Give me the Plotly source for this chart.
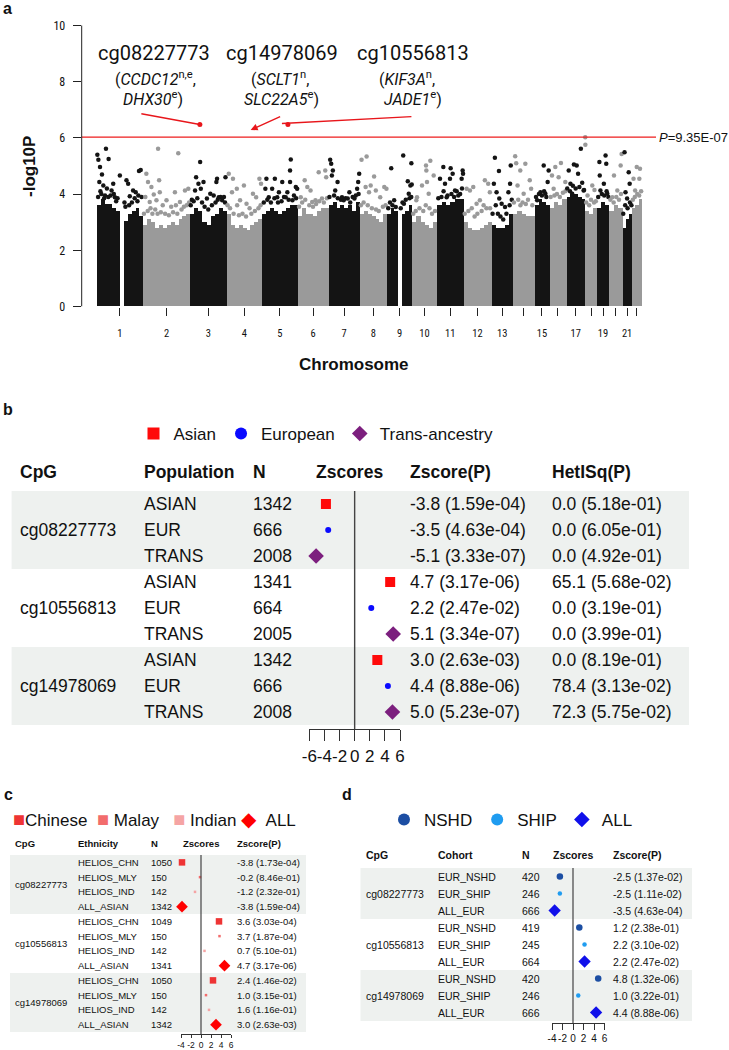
import math
import plotly.graph_objects as go

W, H = 729, 1050
FONT = "Liberation Sans, Arial, sans-serif"
NARROW = "Liberation Sans Narrow, Roboto Condensed, DejaVu Sans Condensed, Liberation Sans, sans-serif"


def PX(p):
    return p / W


def PY(p):
    return 1 - p / H


# ------------------------------------------------------------------ panel a data
chrom = list(range(1, 23))
chrom_span = [46.3, 47.0, 36.5, 35.5, 35.5, 31.0, 31.0, 27.5, 25.0, 25.0, 26.3, 28.2,
              21.3, 21.7, 14.8, 17.0, 18.7, 12.0, 12.0, 13.3, 9.6, 9.7]
chrom_label = ["1", "2", "3", "4", "5", "6", "7", "8", "9", "10", "11", "12", "13", "",
               "15", "", "17", "", "19", "", "21", ""]
# dense core of -log10P per chromosome (equal-width bins along the chromosome)
core_height = [
    [3.6, 3.8, 3.65, 3.65, 3.5, 3.4, 0.0, 3.05, 3.3, 3.4, 3.5, 3.2],
    [2.9, 3.1, 3.0, 2.8, 2.9, 2.8, 2.9, 3.0, 2.9, 3.1, 3.2, 3.3],
    [3.3, 3.5, 3.4, 3.0, 2.9, 3.2, 3.3, 3.5, 3.4],
    [3.3, 2.9, 2.8, 2.9, 2.8, 2.7, 2.9, 3.0, 3.1],
    [3.3, 3.4, 3.5, 3.4, 3.3, 3.4, 3.5, 3.6, 3.6],
    [3.2, 3.5, 3.3, 3.3, 3.2, 3.4, 3.5, 3.5],
    [3.6, 3.7, 3.5, 3.6, 3.5, 3.6, 3.4, 3.7],
    [3.3, 3.4, 3.3, 3.2, 3.1, 3.0, 3.3],
    [3.3, 3.5, 3.4, 0.0, 3.3, 3.4, 3.6],
    [3.0, 3.2, 3.0, 2.9, 2.8, 3.0],
    [3.6, 3.7, 3.6, 3.7, 3.8, 3.8],
    [3.0, 2.8, 2.7, 2.7, 2.8, 2.9, 3.0],
    [2.9, 2.8, 2.8, 2.9, 3.3],
    [3.3, 3.4, 3.3, 3.2, 3.2],
    [3.6, 3.8, 3.7, 3.6],
    [3.5, 3.7, 3.6, 3.8],
    [3.9, 4.0, 4.0, 3.9, 3.8],
    [3.4, 3.3, 3.5],
    [3.5, 3.7, 3.6],
    [3.4, 3.6, 3.5],
    [2.8, 3.1, 3.3],
    [3.5, 3.6, 3.8],
]
# individual CpGs well above the dense core: (relative position in chromosome, -log10P)
peaks = [
    [(.014, 5.40), (.2, 5.61), (.036, 5.22), (.257, 5.25), (.071, 4.96), (.114, 4.70), (.057, 4.43),
     (.143, 4.31), (.357, 4.37), (.5, 4.66), (.393, 3.89), (.643, 4.49), (.679, 4.37), (.914, 4.82),
     (.95, 4.86), (.786, 4.13), (.843, 4.07), (.714, 3.92), (.321, 4.13), (.179, 3.95), (.08, 4.1),
     (.25, 3.9), (.45, 3.85), (.6, 3.7), (.88, 3.75), (.97, 3.9)],
    [(.321, 5.61), (.75, 5.45), (.071, 4.72), (.107, 4.43), (.179, 4.25), (.229, 3.99), (.357, 4.07),
     (.343, 4.49), (.5, 3.78), (.679, 4.07), (.786, 3.72), (.893, 4.13), (.964, 4.19), (.143, 3.72),
     (.286, 3.78), (.42, 3.6), (.6, 3.55), (.7, 3.6), (.05, 3.9)],
    [(.278, 5.14), (.167, 4.60), (.37, 4.43), (.231, 4.37), (.741, 4.55), (.722, 4.43), (.972, 4.60),
     (.139, 4.13), (.648, 3.95), (.787, 3.89), (.556, 4.01), (.88, 3.78), (.463, 3.84), (.296, 4.19),
     (.05, 3.8), (.6, 3.6), (.93, 3.9)],
    [(.064, 4.72), (.182, 4.55), (.291, 4.19), (.491, 4.31), (.155, 4.07), (.745, 4.01), (.836, 3.89),
     (.927, 4.55), (.973, 4.37), (.564, 3.66), (.382, 3.78), (.65, 3.5), (.3, 3.6)],
    [(.81, 5.23), (.79, 4.84), (.79, 4.43), (.362, 4.55), (.124, 4.55), (.095, 4.19), (.286, 4.19),
     (.571, 4.43), (.476, 4.07), (.667, 3.89), (.952, 4.25), (.99, 4.19), (.429, 3.89), (.19, 3.89),
     (.857, 3.78), (.714, 4.07)],
    [(.232, 4.49), (.421, 4.13), (.684, 4.78), (.895, 4.84), (.926, 4.60), (.316, 4.25), (.579, 3.78),
     (.789, 3.84), (.105, 3.89), (.474, 3.72)],
    [(.054, 5.22), (.087, 5.08), (.141, 4.84), (.109, 4.66), (.293, 4.43), (.674, 4.07), (.62, 3.84),
     (.957, 4.43), (.99, 4.72), (.924, 4.19), (.837, 3.84), (.217, 4.13), (.435, 3.89), (.489, 3.78)],
    [(.074, 5.22), (.259, 5.34), (.222, 4.25), (.407, 4.31), (.531, 4.63), (.753, 3.89), (.901, 4.25),
     (.98, 4.19), (.593, 4.13), (.346, 4.07)],
    [(.169, 4.92), (.649, 5.37), (.974, 5.10), (.831, 4.46), (.935, 4.31), (.286, 3.78), (.351, 3.54),
     (.675, 3.66), (.87, 4.01), (.99, 4.34)],
    [(.56, 5.02), (.733, 5.19), (.573, 4.84), (.4, 4.31), (.2, 3.89), (.6, 4.43), (.867, 4.66),
     (.173, 3.78), (.667, 4.01)],
    [(.241, 4.96), (.519, 4.92), (.595, 4.72), (.494, 4.55), (.975, 4.84), (.99, 4.72), (.937, 4.55),
     (.114, 4.55), (.304, 4.37), (.684, 4.13), (.81, 3.95), (.367, 3.89)],
    [(.118, 4.19), (.353, 4.25), (.235, 4.13), (.765, 4.49), (.882, 4.37), (.588, 3.78), (.941, 4.07),
     (.471, 3.66)],
    [(.159, 5.29), (.349, 4.82), (.111, 4.37), (.238, 4.07), (.365, 3.84), (.476, 3.66), (.873, 4.37),
     (.905, 5.02), (.794, 4.07), (.635, 3.54)],
    [(.109, 5.35), (.156, 5.10), (.344, 4.84), (.578, 5.08), (.781, 4.49), (.844, 4.19), (.219, 4.31),
     (.5, 4.01)],
    [(.622, 5.02), (.956, 4.84), (.889, 4.43), (.178, 3.78), (.4, 4.07), (.733, 4.01)],
    [(.353, 4.96), (.686, 5.11), (.157, 4.66), (.549, 4.60), (.941, 4.43), (.255, 4.19)],
    [(.407, 5.05), (.556, 5.02), (.63, 4.72), (.778, 5.61), (.13, 4.84), (.222, 4.37), (.926, 4.13),
     (.315, 4.01)],
    [(.02, 6.02), (.03, 5.76), (.789, 4.15), (.21, 3.95), (.605, 4.31)],
    [(.2, 5.14), (.714, 5.37), (.771, 5.08), (.229, 4.66), (.571, 4.37), (.286, 4.13), (.857, 4.01)],
    [(.375, 4.66), (.95, 5.43), (.875, 5.02), (.625, 4.13), (.25, 3.89)],
    [(.233, 5.49), (.667, 4.78), (.767, 4.37), (.333, 4.07), (.5, 3.84)],
    [(.5, 4.96), (.833, 4.90), (.767, 4.55), (.167, 4.55), (.333, 4.13)],
]
# CpGs just above the dense core (the ragged fringe): (relative position, -log10P)
fringe = [
    [(.03, 3.9), (.1, 4.0), (.16, 3.85), (.22, 4.2), (.3, 3.95), (.37, 4.0), (.42, 3.75), (.62, 3.55),
     (.7, 3.6), (.76, 3.7), (.82, 3.85), (.9, 3.95)],
    [(.02, 3.3), (.1, 3.4), (.16, 3.5), (.2, 3.3), (.26, 3.45), (.31, 3.3), (.38, 3.35), (.47, 3.3),
     (.55, 3.25), (.64, 3.35), (.73, 3.3), (.82, 3.45), (.87, 3.55), (.93, 3.6), (.98, 3.7)],
    [(.02, 3.6), (.1, 3.75), (.2, 3.85), (.33, 3.7), (.4, 3.55), (.5, 3.45), (.7, 3.7), (.76, 3.8),
     (.84, 3.9), (.96, 3.7)],
    [(.03, 3.6), (.1, 3.5), (.2, 3.3), (.35, 3.25), (.45, 3.3), (.55, 3.2), (.7, 3.3), (.8, 3.4),
     (.9, 3.5), (.96, 3.6)],
    [(.05, 3.7), (.15, 3.8), (.25, 3.7), (.35, 3.85), (.45, 3.7), (.55, 3.75), (.62, 3.9), (.75, 3.8),
     (.9, 3.95), (.96, 3.85)],
    [(.05, 3.55), (.15, 3.7), (.25, 3.8), (.38, 3.6), (.5, 3.55), (.6, 3.65), (.7, 3.75), (.85, 3.7),
     (.95, 3.85)],
    [(.03, 3.9), (.18, 3.95), (.3, 3.85), (.4, 3.8), (.55, 3.85), (.7, 3.7), (.78, 3.9), (.88, 3.95),
     (.97, 4.0)],
    [(.05, 3.6), (.15, 3.7), (.3, 3.6), (.45, 3.5), (.6, 3.45), (.7, 3.4), (.85, 3.55), (.95, 3.6)],
    [(.05, 3.5), (.12, 3.7), (.22, 3.6), (.55, 3.5), (.62, 3.7), (.75, 3.8), (.9, 3.85), (.97, 3.9)],
    [(.05, 3.3), (.15, 3.4), (.3, 3.5), (.45, 3.4), (.55, 3.6), (.7, 3.5), (.8, 3.3), (.92, 3.4)],
    [(.05, 3.85), (.17, 3.9), (.25, 4.1), (.4, 3.95), (.55, 4.0), (.65, 3.9), (.75, 4.1), (.88, 4.0),
     (.95, 4.2)],
    [(.05, 3.3), (.18, 3.4), (.3, 3.5), (.4, 3.2), (.5, 3.3), (.65, 3.4), (.72, 3.6), (.82, 3.5),
     (.95, 3.5)],
    [(.05, 3.3), (.2, 3.6), (.3, 3.3), (.42, 3.2), (.55, 3.1), (.7, 3.3), (.85, 3.6), (.95, 3.8)],
    [(.05, 3.7), (.25, 3.8), (.35, 3.6), (.45, 3.7), (.6, 3.65), (.7, 3.8), (.9, 3.6)],
    [(.1, 3.9), (.3, 4.0), (.5, 3.95), (.65, 4.1), (.8, 3.9)],
    [(.08, 3.9), (.3, 3.95), (.45, 4.0), (.62, 3.9), (.8, 4.05), (.95, 4.1)],
    [(.05, 4.2), (.2, 4.1), (.35, 4.3), (.5, 4.2), (.7, 4.25), (.85, 4.4), (.95, 4.15)],
    [(.1, 3.7), (.35, 3.6), (.5, 3.8), (.75, 3.7), (.9, 3.75)],
    [(.1, 3.9), (.4, 4.0), (.6, 3.95), (.8, 4.1), (.95, 3.9)],
    [(.1, 3.8), (.35, 3.7), (.55, 3.9), (.75, 3.8), (.9, 4.0)],
    [(.1, 3.3), (.3, 3.6), (.55, 3.5), (.8, 3.7), (.95, 3.6)],
    [(.1, 3.8), (.3, 3.9), (.55, 4.0), (.75, 3.95), (.95, 4.1)],
]
thr_p = 9.35e-07
hit_cpg = ["cg08227773", "cg14978069", "cg10556813"]
hit_gene1 = ["(<i>CCDC12</i><sup>n,e</sup>,", "(<i>SCLT1</i><sup>n</sup>,", "(<i>KIF3A</i><sup>n</sup>,"]
hit_gene2 = ["<i>DHX30</i><sup>e</sup>)", "<i>SLC22A5</i><sup>e</sup>)", "<i>JADE1</i><sup>e</sup>)"]
hit_chrom = [3, 4, 5]
hit_rel = [0.27, 0.68, 0.73]
hit_p = [3.33e-07, 5.23e-07, 3.34e-07]

# ------------------------------------------------------------------ panel b data
cpg_names = ["cg08227773", "cg10556813", "cg14978069"]
b_pop = ["ASIAN", "EUR", "TRANS"]
b_legend = ["Asian", "European", "Trans-ancestry"]
b_N = [1342, 666, 2008, 1341, 664, 2005, 1342, 666, 2008]
b_z = [-3.8, -3.5, -5.1, 4.7, 2.2, 5.1, 3.0, 4.4, 5.0]
b_p = ["1.59e-04", "4.63e-04", "3.33e-07", "3.17e-06", "2.47e-02", "3.34e-07",
       "2.63e-03", "8.88e-06", "5.23e-07"]
b_i2 = [0.0, 0.0, 0.0, 65.1, 0.0, 0.0, 0.0, 78.4, 72.3]
b_het_p = ["5.18e-01", "6.05e-01", "4.92e-01", "5.68e-02", "3.19e-01", "3.99e-01",
           "8.19e-01", "3.13e-02", "5.75e-02"]

# ------------------------------------------------------------------ panel c data
c_eth = ["HELIOS_CHN", "HELIOS_MLY", "HELIOS_IND", "ALL_ASIAN"]
c_legend = ["Chinese", "Malay", "Indian", "ALL"]
c_N = [1050, 150, 142, 1342, 1049, 150, 142, 1341, 1050, 150, 142, 1342]
c_z = [-3.8, -0.2, -1.2, -3.8, 3.6, 3.7, 0.7, 4.7, 2.4, 1.0, 1.6, 3.0]
c_p = ["1.73e-04", "8.46e-01", "2.32e-01", "1.59e-04", "3.03e-04", "1.87e-04", "5.10e-01",
       "3.17e-06", "1.46e-02", "3.15e-01", "1.16e-01", "2.63e-03"]

# ------------------------------------------------------------------ panel d data
d_cohort = ["EUR_NSHD", "EUR_SHIP", "ALL_EUR"]
d_legend = ["NSHD", "SHIP", "ALL"]
d_N = [420, 246, 666, 419, 245, 664, 420, 246, 666]
d_z = [-2.5, -2.5, -3.5, 1.2, 2.2, 2.2, 4.8, 1.0, 4.4]
d_p = ["1.37e-02", "1.11e-02", "4.63e-04", "2.38e-01", "3.10e-02", "2.47e-02",
       "1.32e-06", "3.22e-01", "8.88e-06"]

forest_ticks = [-6, -4, -2, 0, 2, 4, 6]

# ================================================================== figure
fig = go.Figure()
ann = []
shapes = []

# ---------------- panel a ----------------
starts = []
acc = 0.0
for s in chrom_span:
    starts.append(acc)
    acc += s
mids = [st + sp / 2 for st, sp in zip(starts, chrom_span)]
BLACK, GREY = "#141414", "#9a9a9a"
for i, c in enumerate(chrom):
    col = BLACK if c % 2 == 1 else GREY
    nb = len(core_height[i])
    bw = chrom_span[i] / nb
    fig.add_trace(go.Bar(
        x=[starts[i] + (k + 0.5) * bw for k in range(nb)], y=core_height[i], width=[bw] * nb,
        marker=dict(color=col, line=dict(width=0)), showlegend=False, hoverinfo="skip",
        xaxis="x", yaxis="y"))
    pts = fringe[i] + peaks[i]
    fig.add_trace(go.Scatter(
        x=[starts[i] + r * chrom_span[i] for r, v in pts], y=[v for r, v in pts],
        mode="markers", marker=dict(color=col, size=4.5), showlegend=False, hoverinfo="skip",
        xaxis="x", yaxis="y", cliponaxis=False))

hit_x = [starts[c - 1] + r * chrom_span[c - 1] for c, r in zip(hit_chrom, hit_rel)]
hit_y = [-math.log10(p) for p in hit_p]
fig.add_trace(go.Scatter(x=[hit_x[0], hit_x[2]], y=[hit_y[0], hit_y[2]], mode="markers",
                         marker=dict(color="#e8161b", size=5), showlegend=False,
                         xaxis="x", yaxis="y", cliponaxis=False))
thr = -math.log10(thr_p)
shapes.append(dict(type="line", xref="x domain", yref="y", x0=0, x1=1, y0=thr, y1=thr,
                   line=dict(color="#ee1c1c", width=1.3)))
# y-axis line only from 0 to 10
shapes.append(dict(type="line", xref="x domain", yref="y", x0=0, x1=0, y0=0, y1=10,
                   line=dict(color="#222", width=1)))
ann.append(dict(xref="paper", yref="y", x=PX(656.5), y=thr, text="<i>P</i>=9.35E-07",
                showarrow=False, xanchor="left", yanchor="middle",
                font=dict(size=13, family=FONT, color="#111")))

label_x = [154, 281.5, 413]
gene1_x = [155, 280, 407]
gene2_x = [153, 281.5, 413]
for j in range(3):
    ann.append(dict(xref="paper", yref="paper", x=PX(label_x[j]), y=PY(53), text=hit_cpg[j],
                    showarrow=False, xanchor="center", yanchor="middle",
                    font=dict(size=20, family="Roboto, " + FONT, color="#111")))
    ann.append(dict(xref="paper", yref="paper", x=PX(gene1_x[j]), y=PY(79), text=hit_gene1[j],
                    showarrow=False, xanchor="center", yanchor="middle",
                    font=dict(size=16, family="Roboto, " + FONT, color="#111")))
    ann.append(dict(xref="paper", yref="paper", x=PX(gene2_x[j]), y=PY(98.5), text=hit_gene2[j],
                    showarrow=False, xanchor="center", yanchor="middle",
                    font=dict(size=16, family="Roboto, " + FONT, color="#111")))
# arrows from labels to hits
arrow_cfg = [dict(ax=-60, ay=-11, arrowhead=0, xshift=0, yshift=0),
             dict(ax=31, ay=-14, arrowhead=2, xshift=0, yshift=0),
             dict(ax=131, ay=-7, arrowhead=0, xshift=-6, yshift=1)]
for j in range(3):
    cfg = arrow_cfg[j]
    ann.append(dict(xref="x", yref="y", x=hit_x[j], y=hit_y[j], text="", showarrow=True,
                    ax=cfg["ax"], ay=cfg["ay"], arrowhead=cfg["arrowhead"], arrowsize=1,
                    arrowwidth=1.4, arrowcolor="#e8161b", standoff=0,
                    xshift=cfg["xshift"], yshift=cfg["yshift"]))

ann.append(dict(xref="paper", yref="paper", x=PX(354), y=PY(364), text="<b>Chromosome</b>",
                showarrow=False, xanchor="center", yanchor="middle",
                font=dict(size=17, family=FONT, color="#111")))
ann.append(dict(xref="paper", yref="paper", x=PX(29), y=PY(167), text="<b>-log10P</b>",
                showarrow=False, xanchor="center", yanchor="middle", textangle=-90,
                font=dict(size=17, family=FONT, color="#111")))

# panel letters
for letter, lx, ly in [("a", 1, 8), ("b", 1, 410), ("c", 2, 794), ("d", 340, 794)]:
    ann.append(dict(xref="paper", yref="paper", x=PX(lx), y=PY(ly), text="<b>%s</b>" % letter,
                    showarrow=False, xanchor="left", yanchor="middle",
                    font=dict(size=16, family=FONT, color="#111")))

SHADE = "#eef1ef"
TXT = "#111"

# ---------------- panel b ----------------
b_colors = ["#ff0a0a", "#0a0aff", "#7c1f7e"]
b_symbols = ["square", "circle", "diamond"]
b_sizes = [10, 6, 12]
for k in range(3):
    fig.add_trace(go.Scatter(
        x=[b_z[3 * g + k] for g in range(3)], y=[3 * g + k for g in range(3)], mode="markers",
        marker=dict(symbol=b_symbols[k], size=b_sizes[k], color=b_colors[k], line=dict(width=0)),
        name=b_legend[k], legend="legend", xaxis="x2", yaxis="y2", cliponaxis=False))
for g in (0, 2):
    shapes.append(dict(type="rect", xref="paper", yref="y2", x0=PX(11.6), x1=PX(689),
                       y0=3 * g - 0.5, y1=3 * g + 2.5, fillcolor=SHADE, line=dict(width=0),
                       layer="below"))
shapes.append(dict(type="line", xref="x2", yref="paper", x0=0, x1=0, y0=PY(729), y1=PY(491),
                   line=dict(color="#444", width=1.4)))
fb = 17.5
hdr_b = [("CpG", 17.7, "left"), ("Population", 142, "left"), ("N", 251, "left"),
         ("Zscores", 349, "center"), ("Zscore(P)", 408, "left"), ("HetISq(P)", 550, "left")]
for t, x, a in hdr_b:
    ann.append(dict(xref="paper", yref="paper", x=PX(x), y=PY(472), text="<b>%s</b>" % t,
                    showarrow=False, xanchor=a, yanchor="middle",
                    font=dict(size=fb, family=FONT, color=TXT)))
for g in range(3):
    ann.append(dict(xref="paper", yref="y2", x=PX(17.7), y=3 * g + 1, text=cpg_names[g],
                    showarrow=False, xanchor="left", yanchor="middle",
                    font=dict(size=fb, family=FONT, color=TXT)))
    for k in range(3):
        i = 3 * g + k
        cells = [(b_pop[k], 142), (str(b_N[i]), 251), ("%.1f (%s)" % (b_z[i], b_p[i]), 408),
                 ("%.1f (%s)" % (b_i2[i], b_het_p[i]), 550)]
        for t, x in cells:
            ann.append(dict(xref="paper", yref="y2", x=PX(x), y=i, text=t, showarrow=False,
                            xanchor="left", yanchor="middle",
                            font=dict(size=fb, family=FONT, color=TXT)))

# ---------------- panel c ----------------
c_colors = ["#ee3434", "#f26c6c", "#f5a4a4", "#ff0000"]
c_symbols = ["square", "square", "square", "diamond"]
c_sizes = [6.5, 2.5, 2.5, 9]
for k in range(4):
    fig.add_trace(go.Scatter(
        x=[c_z[4 * g + k] for g in range(3)], y=[4 * g + k for g in range(3)], mode="markers",
        marker=dict(symbol=c_symbols[k], size=c_sizes[k], color=c_colors[k], line=dict(width=0)),
        name=c_legend[k], showlegend=False, xaxis="x3", yaxis="y3", cliponaxis=False))
for g in (0, 2):
    shapes.append(dict(type="rect", xref="paper", yref="y3", x0=PX(10), x1=PX(306),
                       y0=4 * g - 0.5, y1=4 * g + 3.5, fillcolor=SHADE, line=dict(width=0),
                       layer="below"))
shapes.append(dict(type="line", xref="x3", yref="paper", x0=0, x1=0, y0=PY(1034), y1=PY(855),
                   line=dict(color="#444", width=1.2)))
SQ = '<span style="color:%s;font-size:20px">■</span>'
DM = '<span style="color:%s;font-size:20px">◆</span>'
c_leg_text = ((SQ % c_colors[0]) + c_legend[0] + "&nbsp;&nbsp;" +
              (SQ % c_colors[1]) + "&nbsp;" + c_legend[1] + "&nbsp;&nbsp;&nbsp;" +
              (SQ % c_colors[2]) + "&nbsp;" + c_legend[2] + "&nbsp;" +
              (DM % c_colors[3]) + "&nbsp;&nbsp;" + c_legend[3])
ann.append(dict(xref="paper", yref="paper", x=PX(11), y=PY(819), text=c_leg_text,
                showarrow=False, xanchor="left", yanchor="middle",
                font=dict(size=17, family=FONT, color=TXT)))
fc = 9.5
hdr_c = [("CpG", 13, "left"), ("Ethnicity", 76, "left"), ("N", 149, "left"),
         ("Zscores", 201, "center"), ("Zscore(P)", 235, "left")]
for t, x, a in hdr_c:
    ann.append(dict(xref="paper", yref="paper", x=PX(x), y=PY(843), text="<b>%s</b>" % t,
                    showarrow=False, xanchor=a, yanchor="middle",
                    font=dict(size=fc, family=FONT, color=TXT)))
for g in range(3):
    ann.append(dict(xref="paper", yref="y3", x=PX(13), y=4 * g + 1.5, text=cpg_names[g],
                    showarrow=False, xanchor="left", yanchor="middle",
                    font=dict(size=fc, family=FONT, color=TXT)))
    for k in range(4):
        i = 4 * g + k
        cells = [(c_eth[k], 76), (str(c_N[i]), 149), ("%.1f (%s)" % (c_z[i], c_p[i]), 235)]
        for t, x in cells:
            ann.append(dict(xref="paper", yref="y3", x=PX(x), y=i, text=t, showarrow=False,
                            xanchor="left", yanchor="middle",
                            font=dict(size=fc, family=FONT, color=TXT)))

# ---------------- panel d ----------------
d_colors = ["#1c4ea3", "#1f9cf0", "#1010ea"]
d_symbols = ["circle", "circle", "diamond"]
d_sizes = [6.5, 4.5, 9.5]
for k in range(3):
    fig.add_trace(go.Scatter(
        x=[d_z[3 * g + k] for g in range(3)], y=[3 * g + k for g in range(3)], mode="markers",
        marker=dict(symbol=d_symbols[k], size=d_sizes[k], color=d_colors[k], line=dict(width=0)),
        name=d_legend[k], legend="legend2", xaxis="x4", yaxis="y4", cliponaxis=False))
for g in (0, 2):
    shapes.append(dict(type="rect", xref="paper", yref="y4", x0=PX(360.5), x1=PX(692),
                       y0=3 * g - 0.5, y1=3 * g + 2.5, fillcolor=SHADE, line=dict(width=0),
                       layer="below"))
shapes.append(dict(type="line", xref="x4", yref="paper", x0=0, x1=0, y0=PY(1023), y1=PY(868),
                   line=dict(color="#444", width=1.2)))
fd = 10.5
hdr_d = [("CpG", 364, "left"), ("Cohort", 436, "left"), ("N", 520, "left"),
         ("Zscores", 573, "center"), ("Zscore(P)", 611, "left")]
for t, x, a in hdr_d:
    ann.append(dict(xref="paper", yref="paper", x=PX(x), y=PY(855), text="<b>%s</b>" % t,
                    showarrow=False, xanchor=a, yanchor="middle",
                    font=dict(size=fd, family=FONT, color=TXT)))
for g in range(3):
    ann.append(dict(xref="paper", yref="y4", x=PX(364), y=3 * g + 1, text=cpg_names[g],
                    showarrow=False, xanchor="left", yanchor="middle",
                    font=dict(size=fd, family=FONT, color=TXT)))
    for k in range(3):
        i = 3 * g + k
        cells = [(d_cohort[k], 436), (str(d_N[i]), 520), ("%.1f (%s)" % (d_z[i], d_p[i]), 611)]
        for t, x in cells:
            ann.append(dict(xref="paper", yref="y4", x=PX(x), y=i, text=t, showarrow=False,
                            xanchor="left", yanchor="middle",
                            font=dict(size=fd, family=FONT, color=TXT)))

# ================================================================== layout
x_left_px, x_right_px = 81.7, 656.0
x0_units = -(96.7 - x_left_px)
x1_units = x0_units + (x_right_px - x_left_px)

tick_txt = [str(t) for t in forest_ticks]  # plain hyphen minus as in the original
forest_axis = dict(anchor="free", ticks="outside", tickcolor="#333", showline=True,
                   linecolor="#333", linewidth=1, showgrid=False, zeroline=False,
                   tickangle=0, automargin=False)
layout = dict(
    width=W, height=H, margin=dict(l=0, r=0, t=0, b=0),
    paper_bgcolor="white", plot_bgcolor="rgba(0,0,0,0)",
    showlegend=True, bargap=0,
    font=dict(family=FONT, color=TXT),
    xaxis=dict(domain=[PX(x_left_px), PX(x_right_px)], range=[x0_units, x1_units],
               tickvals=mids, ticktext=chrom_label, ticks="outside", ticklen=8, tickcolor="#222",
               tickwidth=1, showline=False, showgrid=False, zeroline=False, anchor="y",
               tickangle=0, tickfont=dict(size=10.5, family=NARROW, color=TXT),
               ticklabelstandoff=9, automargin=False, fixedrange=True),
    yaxis=dict(domain=[PY(306.5), PY(306.5 - 10.4 * 28.1)], range=[0, 10.4],
               tickvals=[0, 2, 4, 6, 8, 10], ticks="outside", ticklen=8, tickcolor="#222",
               showline=False, showgrid=False, zeroline=False, anchor="x",
               tickfont=dict(size=12, family=NARROW, color=TXT), ticklabelstandoff=5,
               automargin=False),
    xaxis2=dict(forest_axis, domain=[PX(309.3), PX(400)], range=[-6, 6], position=PY(729),
                tickvals=forest_ticks, ticktext=tick_txt, ticklen=11,
                tickfont=dict(size=17, family=FONT, color=TXT), ticklabelstandoff=1),
    yaxis2=dict(domain=[PY(725), PY(491)], range=[8.5, -0.5], visible=False, anchor="x2"),
    xaxis3=dict(forest_axis, domain=[PX(181), PX(231)], range=[-4, 6], position=PY(1034),
                tickvals=forest_ticks[1:], ticktext=tick_txt[1:], ticklen=3,
                tickfont=dict(size=8.5, family=FONT, color=TXT), ticklabelstandoff=0),
    yaxis3=dict(domain=[PY(1032), PY(855)], range=[11.5, -0.5], visible=False, anchor="x3"),
    xaxis4=dict(forest_axis, domain=[PX(552), PX(604.5)], range=[-4, 6], position=PY(1023),
                tickvals=forest_ticks[1:], ticktext=tick_txt[1:], ticklen=6,
                tickfont=dict(size=10, family=FONT, color=TXT), ticklabelstandoff=0),
    yaxis4=dict(domain=[PY(1021), PY(868)], range=[8.5, -0.5], visible=False, anchor="x4"),
    legend=dict(orientation="h", x=PX(133.5), y=PY(434), xanchor="left", yanchor="middle",
                font=dict(size=17, family=FONT, color=TXT), itemsizing="constant",
                bgcolor="rgba(0,0,0,0)", borderwidth=0, traceorder="normal"),
    legend2=dict(orientation="h", x=PX(384), y=PY(820), xanchor="left", yanchor="middle",
                 font=dict(size=17, family=FONT, color=TXT), itemsizing="constant",
                 bgcolor="rgba(0,0,0,0)", borderwidth=0, traceorder="normal"),
    annotations=ann, shapes=shapes,
)
fig.update_layout(**layout)
fig.write_html("out.html")
